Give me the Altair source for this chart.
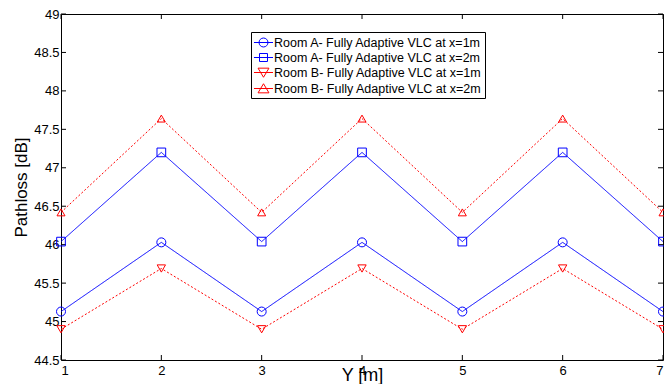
import altair as alt
import pandas as pd

# ---- data ----
y_pos = [1, 2, 3, 4, 5, 6, 7]
room_a_1m = [45.13, 46.03, 45.13, 46.03, 45.13, 46.03, 45.13]
room_a_2m = [46.04, 47.20, 46.04, 47.20, 46.04, 47.20, 46.04]
room_b_1m = [44.90, 45.69, 44.90, 45.69, 44.90, 45.69, 44.90]
room_b_2m = [46.42, 47.64, 46.42, 47.64, 46.42, 47.64, 46.42]

series_names = [
    "Room A- Fully Adaptive VLC at x=1m",
    "Room A- Fully Adaptive VLC at x=2m",
    "Room B- Fully Adaptive VLC at x=1m",
    "Room B- Fully Adaptive VLC at x=2m",
]
series_values = [room_a_1m, room_a_2m, room_b_1m, room_b_2m]
series_colors = ["#0000ff", "#0000ff", "#ff0000", "#ff0000"]
series_shapes = ["circle", "square", "triangle-down", "triangle-up"]
series_sizes = [81, 64, 110, 110]
series_dash = [[1, 0], [1, 0], [2, 2], [2, 2]]
legend_shapes = [
    "M-1.36,0H1.36M0.64,0A0.64,0.64,0,1,1,-0.64,0A0.64,0.64,0,1,1,0.64,0",
    "M-1.36,0H1.36M-0.57,-0.57H0.57V0.57H-0.57Z",
    "M-1.36,0H1.36M-0.78,-0.62H0.78L0,0.68Z",
    "M-1.36,0H1.36M-0.78,0.62H0.78L0,-0.68Z",
]

x_ticks = [1, 2, 3, 4, 5, 6, 7]
y_ticks = [44.5, 45, 45.5, 46, 46.5, 47, 47.5, 48, 48.5, 49]

rows = []
for name, vals in zip(series_names, series_values):
    for xv, v in zip(y_pos, vals):
        rows.append({"x": xv, "value": v, "series": name})
df = pd.DataFrame(rows)

W, H = 602, 346
FONT = "Liberation Sans"

x_enc = alt.X(
    "x:Q",
    scale=alt.Scale(domain=[1, 7], nice=False, zero=False),
    axis=alt.Axis(
        values=x_ticks, title="Y [m]", titleFontSize=18, titleFontWeight="normal",
        titleX=301, titleY=15, titleBaseline="middle", labelPadding=4,
        labelFontSize=13, labelAngle=0,
    ),
)
y_enc = alt.Y(
    "value:Q",
    scale=alt.Scale(domain=[44.5, 49], nice=False, zero=False),
    axis=alt.Axis(
        values=y_ticks, title="Pathloss [dB]", titleFontSize=17, titleFontWeight="normal",
        titleX=-40, titleBaseline="middle", labelPadding=2, labelFontSize=13,
        labelExpr="datum.value + ''",
    ),
)

color_scale = alt.Scale(domain=series_names, range=series_colors)
color_enc = alt.Color("series:N", scale=color_scale, legend=None)


def make_legend():
    return alt.Legend(
        title=None, orient="none", legendX=190, legendY=18,
        direction="vertical", strokeColor="black", fillColor="white",
        padding=3, labelFont=FONT, labelFontSize=12.5, labelColor="black",
        labelOffset=3, labelLimit=400, rowPadding=1, symbolSize=196,
        symbolOffset=2, symbolStrokeWidth=1, symbolFillColor="transparent",
        cornerRadius=0,
    )


lines = alt.Chart(df).mark_line(strokeWidth=1).encode(
    x=x_enc,
    y=y_enc,
    color=color_enc,
    strokeDash=alt.StrokeDash(
        "series:N",
        scale=alt.Scale(domain=series_names, range=series_dash),
        legend=None,
    ),
)

points = alt.Chart(df).mark_point(filled=False, strokeWidth=1, opacity=1).encode(
    x=x_enc,
    y=y_enc,
    color=color_enc,
    shape=alt.Shape(
        "series:N",
        scale=alt.Scale(domain=series_names, range=series_shapes),
        legend=None,
    ),
    size=alt.Size(
        "series:N",
        scale=alt.Scale(domain=series_names, range=series_sizes),
        legend=None,
    ),
)

legend_layer = alt.Chart(df).transform_filter("datum.x < 0").mark_point(
    filled=False, strokeWidth=1, opacity=1, size=196
).encode(
    x=x_enc,
    y=y_enc,
    color=alt.Color("series:N", scale=color_scale, legend=make_legend()),
    shape=alt.Shape(
        "series:N",
        scale=alt.Scale(domain=series_names, range=legend_shapes),
        legend=make_legend(),
    ),
)

ydf = pd.DataFrame({"value": y_ticks})
xdf = pd.DataFrame({"x": x_ticks})

tick_l = alt.Chart(ydf).mark_rule(color="black", strokeWidth=1).encode(
    y=y_enc, x=alt.value(0), x2=alt.value(5))
tick_r = alt.Chart(ydf).mark_rule(color="black", strokeWidth=1).encode(
    y=y_enc, x=alt.value(W - 5), x2=alt.value(W))
tick_b = alt.Chart(xdf).mark_rule(color="black", strokeWidth=1).encode(
    x=x_enc, y=alt.value(H - 5), y2=alt.value(H))
tick_t = alt.Chart(xdf).mark_rule(color="black", strokeWidth=1).encode(
    x=x_enc, y=alt.value(0), y2=alt.value(5))

chart = alt.layer(
    tick_l, tick_r, tick_b, tick_t, lines, points, legend_layer
).resolve_scale(
    shape="independent", color="independent"
).properties(
    width=W,
    height=H,
    autosize=alt.AutoSizeParams(type="none"),
    padding={"left": 53, "top": 6, "right": 1, "bottom": 24},
    background="white",
).configure_view(
    stroke="black", strokeWidth=1
).configure_axis(
    grid=False, domain=False, ticks=False,
    labelFont=FONT, titleFont=FONT, labelColor="black", titleColor="black",
)

chart.save("out.html", embed_options={"renderer": "svg", "actions": False})
